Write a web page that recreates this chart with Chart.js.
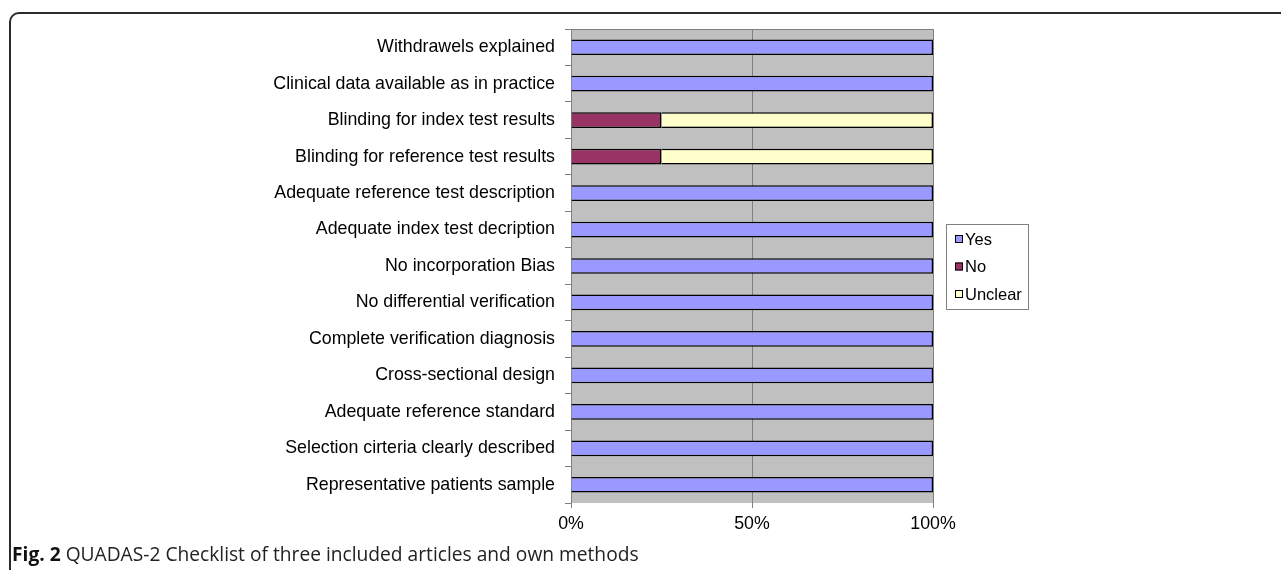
<!DOCTYPE html>
<html>
<head>
<meta charset="utf-8">
<script src="https://cdn.jsdelivr.net/npm/chart.js@4"></script>
<style>
  html, body { margin: 0; padding: 0; background: #fff; overflow: hidden; }
  #wrap { position: relative; width: 1281px; height: 570px; }
  #frame {
    position: absolute; left: 9px; top: 12px; width: 1320px; height: 620px;
    border: 2px solid #2b2b2b; border-radius: 10px; box-sizing: border-box;
  }
  #myChart { position: absolute; left: 0; top: 0; }
  #caption {
    position: absolute; left: 12px; top: 541px; line-height: 26px;
    font-family: "Open Sans", sans-serif; font-size: 19.2px; color: #222;
    white-space: nowrap;
  }
  #caption b { color: #111; }
</style>
</head>
<body>
<div id="wrap">
  <div id="frame"></div>
  <canvas id="myChart" width="1281" height="570"></canvas>
  <div id="caption"><b>Fig. 2</b> QUADAS-2 Checklist of three included articles and own methods</div>
</div>
<script>
var categories = [
    "Withdrawels explained",
    "Clinical data available as in practice",
    "Blinding for index test results",
    "Blinding for reference test results",
    "Adequate reference test description",
    "Adequate index test decription",
    "No incorporation Bias",
    "No differential verification",
    "Complete verification diagnosis",
    "Cross-sectional design",
    "Adequate reference standard",
    "Selection cirteria clearly described",
    "Representative patients sample",
];
var yesValues     = [100, 100, 0, 0, 100, 100, 100, 100, 100, 100, 100, 100, 100];
var noValues      = [0, 0, 25, 25, 0, 0, 0, 0, 0, 0, 0, 0, 0];
var unclearValues = [0, 0, 75, 75, 0, 0, 0, 0, 0, 0, 0, 0, 0];
var xTicks = [0, 50, 100];

var plotBackground = {
    id: "plotBackground",
    beforeDraw: function(chart) {
        var a = chart.chartArea, c = chart.ctx;
        c.save();
        c.fillStyle = "#C0C0C0";
        c.fillRect(a.left, a.top, a.right - a.left, a.bottom - a.top);
        c.strokeStyle = "#808080";
        c.lineWidth = 1;
        c.beginPath();
        c.moveTo(a.left, a.top + 0.5);
        c.lineTo(a.right, a.top + 0.5);
        c.stroke();
        c.restore();
    }
};

var boxLegend = {
    id: "boxLegend",
    afterDraw: function(chart) {
        var c = chart.ctx;
        var x = 946.5, y = 224.5, w = 82, h = 85;
        c.save();
        c.fillStyle = "#fff";
        c.fillRect(x, y, w, h);
        c.strokeStyle = "#808080";
        c.lineWidth = 1;
        c.strokeRect(x, y, w, h);
        c.font = "16.5px 'Liberation Sans', Arial, sans-serif";
        c.textBaseline = "middle";
        chart.data.datasets.forEach(function(ds, i) {
            var cy = 239 + i * 27.5;
            c.fillStyle = ds.backgroundColor;
            c.fillRect(955, cy - 4, 8, 8);
            c.strokeStyle = "#000";
            c.strokeRect(955.5, cy - 3.5, 7, 7);
            c.fillStyle = "#000";
            c.fillText(ds.label, 965, cy + 1);
        });
        c.restore();
    }
};

var ctx = document.getElementById("myChart").getContext("2d");
var myChart = new Chart(ctx, {
    type: "bar",
    data: {
        labels: categories,
        datasets: [
            {
                label: "Yes",
                data: yesValues,
                backgroundColor: "#9999FF",
                borderColor: "#000000",
                borderWidth: 1.5,
            },
            {
                label: "No",
                data: noValues,
                backgroundColor: "#993366",
                borderColor: "#000000",
                borderWidth: 1.5,
            },
            {
                label: "Unclear",
                data: unclearValues,
                backgroundColor: "#FFFFCC",
                borderColor: "#000000",
                borderWidth: 1.5,
            },
        ],
    },
    options: {
        indexAxis: "y",
        responsive: false,
        animation: false,
        categoryPercentage: 1,
        barPercentage: 0.43,
        layout: {
            padding: { left: 0, right: 348, top: 29, bottom: 27 },
        },
        plugins: {
            legend: { display: false },
            tooltip: { enabled: false },
        },
        scales: {
            x: {
                stacked: true,
                min: 0,
                max: 100,
                afterBuildTicks: function(scale) {
                    scale.ticks = xTicks.map(function(v) { return { value: v }; });
                },
                afterFit: function(scale) { scale.height = 40; },
                ticks: {
                    callback: function(v) { return v + "%"; },
                    color: "#000",
                    font: { family: "'Liberation Sans', Arial, sans-serif", size: 17.8 },
                    padding: 5,
                    maxRotation: 0,
                },
                grid: {
                    color: "#808080",
                    lineWidth: 1,
                    drawTicks: true,
                    tickLength: 5,
                },
                border: { display: false },
            },
            y: {
                stacked: true,
                afterFit: function(scale) { scale.width = 571; },
                ticks: {
                    color: "#000",
                    font: { family: "'Liberation Sans', Arial, sans-serif", size: 17.8 },
                    padding: 10,
                    autoSkip: false,
                },
                grid: {
                    offset: true,
                    drawOnChartArea: false,
                    drawTicks: true,
                    tickLength: 6,
                    color: "#808080",
                },
                border: { display: true, color: "#808080", width: 1 },
            },
        },
    },
    plugins: [plotBackground, boxLegend],
});
</script>
</body>
</html>
